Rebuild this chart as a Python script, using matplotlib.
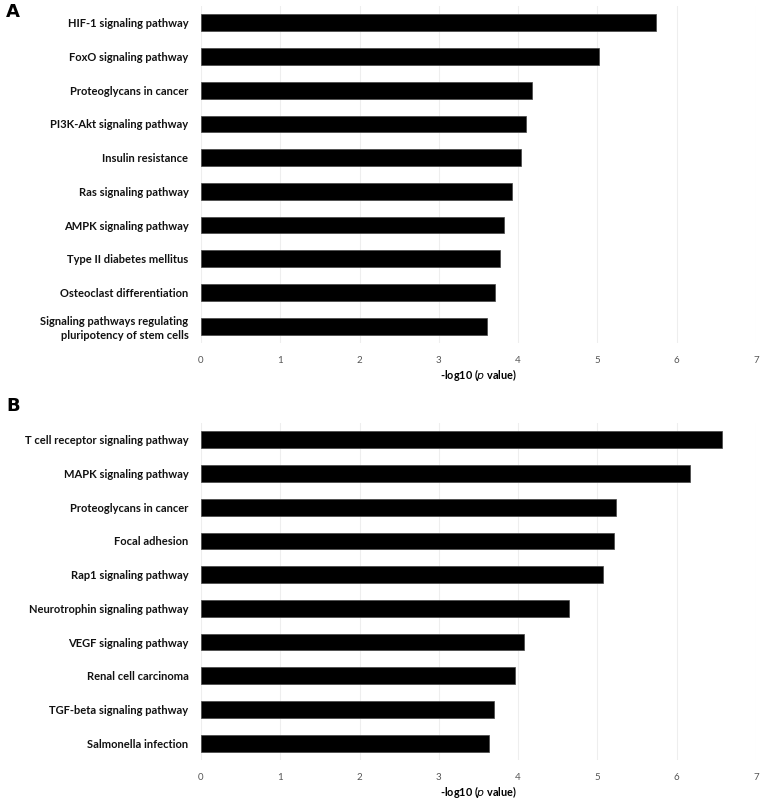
import matplotlib
matplotlib.use("Agg")
from matplotlib import pyplot as plt

plt.rcParams['font.family'] = ['Lato', 'DejaVu Sans']

# panel A: KEGG pathways, -log10(p)
pathways_a = [
    'HIF-1 signaling pathway',
    'FoxO signaling pathway',
    'Proteoglycans in cancer',
    'PI3K-Akt signaling pathway',
    'Insulin resistance',
    'Ras signaling pathway',
    'AMPK signaling pathway',
    'Type II diabetes mellitus',
    'Osteoclast differentiation',
    'Signaling pathways regulating\npluripotency of stem cells',
]
values_a = [5.74, 5.02, 4.17, 4.10, 4.04, 3.92, 3.82, 3.77, 3.71, 3.61]

# panel B
pathways_b = [
    'T cell receptor signaling pathway',
    'MAPK signaling pathway',
    'Proteoglycans in cancer',
    'Focal adhesion',
    'Rap1 signaling pathway',
    'Neurotrophin signaling pathway',
    'VEGF signaling pathway',
    'Renal cell carcinoma',
    'TGF-beta signaling pathway',
    'Salmonella infection',
]
values_b = [6.57, 6.17, 5.24, 5.21, 5.07, 4.64, 4.07, 3.96, 3.70, 3.63]

x_ticks = [0, 1, 2, 3, 4, 5, 6, 7]


def draw_panel(ax, labels, values):
    ypos = list(range(len(labels)))
    ax.barh(ypos, values, height=0.5, color='black', edgecolor='#444444',
            linewidth=0.5, zorder=3)
    ax.set_yticks(ypos)
    ax.set_yticklabels(labels, fontsize=8, fontweight='bold', color='#111111',
                       linespacing=1.3)
    ax.set_ylim(len(labels) - 0.5, -0.5)
    ax.set_xlim(0, 7)
    ax.set_xticks(x_ticks)
    ax.tick_params(axis='x', length=0, pad=9, labelsize=7, labelcolor='#555555')
    ax.tick_params(axis='y', length=0, pad=9)
    ax.grid(axis='x', color='#eeeeee', linewidth=0.8, zorder=0)
    for side in ax.spines.values():
        side.set_visible(False)
    ax.set_xlabel(r'-log10 ($\mathit{p}$ value)', fontsize=7.8,
                  fontweight='bold', labelpad=2)


fig = plt.figure(figsize=(7.65, 7.99), dpi=100)
ax_a = fig.add_axes([0.2627, 0.5707, 0.7255, 0.4218])
ax_b = fig.add_axes([0.2627, 0.0488, 0.7255, 0.4218])

draw_panel(ax_a, pathways_a, values_a)
draw_panel(ax_b, pathways_b, values_b)

fig.text(6 / 765, 1 - 3 / 799, 'A', fontsize=13, fontweight='bold',
         va='top', ha='left', family='DejaVu Sans')
fig.text(6 / 765, 1 - 397 / 799, 'B', fontsize=13, fontweight='bold',
         va='top', ha='left', family='DejaVu Sans')

fig.savefig('out.png', dpi=100)
